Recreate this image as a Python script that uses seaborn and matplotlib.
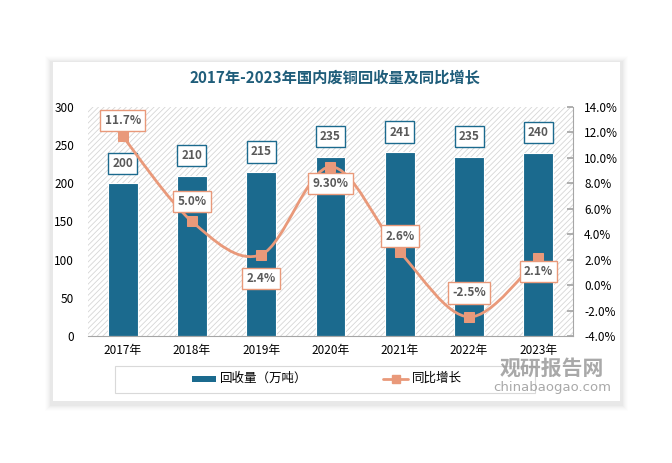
import matplotlib
matplotlib.use("Agg")
import matplotlib.pyplot as plt
import seaborn as sns
import numpy as np
import pandas as pd
from matplotlib.patches import Rectangle, Path, PathPatch
from matplotlib.ticker import FuncFormatter, MultipleLocator

years = ["2017年", "2018年", "2019年", "2020年", "2021年", "2022年", "2023年"]
volume = [200, 210, 215, 235, 241, 235, 240]
growth = [11.7, 5.0, 2.4, 9.3, 2.6, -2.5, 2.1]
growth_labels = ["11.7%", "5.0%", "2.4%", "9.30%", "2.6%", "-2.5%", "2.1%"]
growth_offsets = [16, 20, -24, -17, 16, 24, -13]

BAR = "#1B6A8E"
LINE = "#E9997A"
TXT = "#595959"

sns.set_theme(style="white")
plt.rcParams['font.family'] = ['Noto Sans CJK SC', 'DejaVu Sans']
plt.rcParams['hatch.linewidth'] = 0.6

W, H = 672, 463
fig = plt.figure(figsize=(W / 100, H / 100), dpi=100)
fig.patch.set_facecolor("white")

def fr(x0, y0, x1, y1):
    return (x0 / W, 1 - y1 / H, (x1 - x0) / W, (y1 - y0) / H)

# card shadow
for i, a in enumerate([0.008, 0.01, 0.013, 0.016, 0.02, 0.025]):
    d = 8 - i
    l, b, w, h = fr(53 - d, 62 - d + 2, 620 + d, 401 + d + 2)
    fig.patches.append(Rectangle((l, b), w, h, transform=fig.transFigure,
                                 facecolor="black", alpha=a, edgecolor="none", zorder=0))
l, b, w, h = fr(53, 62, 620, 401)
fig.patches.append(Rectangle((l, b), w, h, transform=fig.transFigure,
                             facecolor="white", edgecolor="none", zorder=0.5))

ax = fig.add_axes(fr(88, 107, 573, 336))
ax.set_zorder(2)
ax.set_facecolor("none")
ax.add_patch(Rectangle((0, 0), 1, 1, transform=ax.transAxes, facecolor="white",
                       edgecolor="#d6d6d6", hatch="//////", linewidth=0, zorder=0))

df = pd.DataFrame({"year": years, "volume": volume, "growth": growth})
sns.barplot(data=df, x="year", y="volume", ax=ax, color=BAR, width=0.43,
            saturation=1, edgecolor="white", linewidth=0.8, zorder=2)
ax.set_ylim(0, 300)
ax.yaxis.set_major_locator(MultipleLocator(50))
ax.set_xlim(-0.5, 6.5)
ax.set_xlabel("")
ax.set_ylabel("")
for s in ["top", "right", "left"]:
    ax.spines[s].set_visible(False)
ax.spines["bottom"].set_color("#a6a6a6")
ax.spines["bottom"].set_linewidth(0.8)
ax.tick_params(axis="both", length=0, labelsize=8.5, colors="black")
ax.tick_params(axis="x", pad=6)
ax.tick_params(axis="y", pad=10)

for i, v in enumerate(volume):
    ax.annotate(str(v), (i, v), xytext=(0, 20), textcoords="offset pixels",
                ha="center", va="center", fontsize=8.5, fontweight="bold", color=TXT,
                bbox=dict(boxstyle="square,pad=0.35", facecolor="white", edgecolor=BAR, linewidth=1),
                zorder=5)

ax2 = ax.twinx()
ax2.set_zorder(3)
ax2.patch.set_visible(False)
ax2.set_ylim(-4, 14)
ax2.yaxis.set_major_locator(MultipleLocator(2))
ax2.yaxis.set_major_formatter(FuncFormatter(lambda v, p: f"{v:.1f}%"))
for s in ["top", "left", "bottom"]:
    ax2.spines[s].set_visible(False)
ax2.spines["right"].set_color("#a6a6a6")
ax2.spines["right"].set_linewidth(0.8)
ax2.tick_params(axis="y", direction="in", length=4, color="#a6a6a6", labelsize=8.5,
                labelcolor="black", pad=8)

# smooth curve through the growth points (Catmull-Rom -> cubic Bezier)
xs = np.arange(len(growth), dtype=float)
ys = np.array(growth, dtype=float)
P = np.column_stack([xs, ys])
verts = [tuple(P[0])]
codes = [Path.MOVETO]
for i in range(len(P) - 1):
    p0 = P[i - 1] if i > 0 else P[i]
    p1, p2 = P[i], P[i + 1]
    p3 = P[i + 2] if i + 2 < len(P) else P[i + 1]
    c1 = p1 + (p2 - p0) / 6
    c2 = p2 - (p3 - p1) / 6
    verts += [tuple(c1), tuple(c2), tuple(p2)]
    codes += [Path.CURVE4] * 3
ax2.add_patch(PathPatch(Path(verts, codes), facecolor="none", edgecolor=LINE,
                        linewidth=2, zorder=3))
sns.lineplot(x=xs, y=ys, ax=ax2, marker="s", markersize=7, color=LINE,
             linestyle="none", markeredgecolor=LINE, zorder=4)
ax2.set_xlim(-0.5, 6.5)

for i, (v, lab, off) in enumerate(zip(growth, growth_labels, growth_offsets)):
    ax2.annotate(lab, (i, v), xytext=(0, off), textcoords="offset pixels",
                 ha="center", va="center", fontsize=8.5, fontweight="bold", color=TXT,
                 bbox=dict(boxstyle="square,pad=0.35", facecolor="white", edgecolor=LINE, linewidth=1),
                 zorder=6)

# title
fig.text(335 / W, 1 - 78 / H, "2017年-2023年国内废铜回收量及同比增长", ha="center", va="center",
         fontsize=11, fontweight="bold", color="#1F5D7A")

# legend box
l, b, w, h = fr(115, 366, 535, 393)
fig.patches.append(Rectangle((l, b), w, h, transform=fig.transFigure,
                             facecolor="white", edgecolor="#d9d9d9", linewidth=0.8, zorder=1))
fig.patches.append(Rectangle((192 / W, 1 - 381.5 / H), 24 / W, 6 / H, transform=fig.transFigure,
                             facecolor=BAR, edgecolor="none", zorder=2))
fig.text(220 / W, 1 - 378.5 / H, "回收量（万吨）", ha="left", va="center", fontsize=9, color="black")
fig.lines.append(plt.Line2D([383 / W, 408 / W], [1 - 378.5 / H, 1 - 378.5 / H],
                            transform=fig.transFigure, color=LINE, linewidth=2, zorder=2))
fig.lines.append(plt.Line2D([395.5 / W], [1 - 378.5 / H], transform=fig.transFigure,
                            color=LINE, marker="s", markersize=6, linestyle="none", zorder=3))
fig.text(412 / W, 1 - 378.5 / H, "同比增长", ha="left", va="center", fontsize=9, color="black")

# watermark
fig.text(552 / W, 1 - 368 / H, "观研报告网", ha="center", va="center", fontsize=15,
         fontweight="bold", color="#8c8c8c", alpha=0.75, zorder=10)
fig.text(552 / W, 1 - 388 / H, "chinabaogao.com", ha="center", va="center", fontsize=9.5,
         color="#8c8c8c", alpha=0.75, zorder=10, family="DejaVu Sans")

fig.savefig("out.png", dpi=100)
